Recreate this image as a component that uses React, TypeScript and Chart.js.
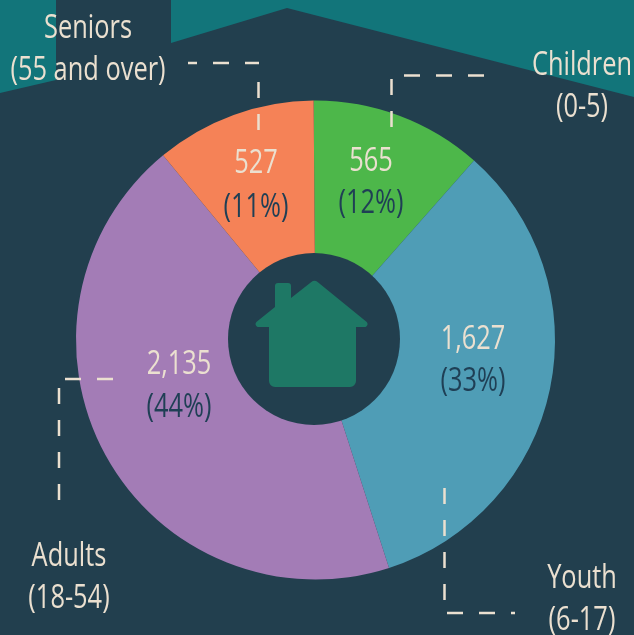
import React, { useEffect, useRef } from "react";
import { Chart, registerables } from "chart.js";

Chart.register(...registerables);

const categories = ["Children", "Youth", "Adults", "Seniors"];
const ranges = ["(0-5)", "(6-17)", "(18-54)", "(55 and over)"];
const values = [565, 1627, 2135, 527];
const percents = ["(12%)", "(33%)", "(44%)", "(11%)"];
const sliceColors = ["#4DB74A", "#4F9DB6", "#A37CB6", "#F58257"];

const BG = "#223F4E";
const TEAL = "#12757A";
const HOUSE = "#1E7865";
const CREAM = "#EBE0D0";
const DARK = "#1F3F55";
const FONT = '33px "Open Sans"';
const SQUEEZE = 0.77;

// pixel layout, per category
const valuePos = [[371, 171], [473, 349], [179, 374], [256, 173]];
const pctPos = [[371, 213], [473, 391], [179, 417], [256, 217]];
const namePos = [[582, 75], [582, 588], [69, 566], [88, 38]];
const rangePos = [[582, 117], [582, 630], [69, 608], [88, 80]];
const leaders = [
  [[404, 75.5, 484, 75.5, 0], [391.5, 79, 391.5, 127, 0]],
  [[444.5, 488, 444.5, 600, 0], [447, 613, 515, 613, 0]],
  [[65, 379, 113, 379, 0], [59, 388, 59, 500, 0]],
  [[188, 63, 259, 63, 7], [258.5, 82, 258.5, 130, 0]],
];

function polygon(ctx: CanvasRenderingContext2D, pts: number[][]) {
  ctx.beginPath();
  pts.forEach(([x, y], i) => (i ? ctx.lineTo(x, y) : ctx.moveTo(x, y)));
  ctx.closePath();
  ctx.fill();
}

function roundedPolygon(ctx: CanvasRenderingContext2D, pts: number[][]) {
  const n = pts.length;
  ctx.beginPath();
  const last = pts[n - 1];
  const first = pts[0];
  ctx.moveTo((last[0] + first[0]) / 2, (last[1] + first[1]) / 2);
  for (let i = 0; i < n; i++) {
    const p = pts[i];
    const q = pts[(i + 1) % n];
    ctx.arcTo(p[0], p[1], q[0], q[1], p[2]);
  }
  ctx.closePath();
  ctx.fill();
}

function text(ctx: CanvasRenderingContext2D, s: string, x: number, y: number, color: string) {
  ctx.save();
  ctx.translate(x, y);
  ctx.scale(SQUEEZE, 1);
  ctx.font = FONT;
  ctx.fillStyle = color;
  ctx.textAlign = "center";
  ctx.textBaseline = "alphabetic";
  ctx.fillText(s, 0, 0);
  ctx.restore();
}

const backdrop = {
  id: "backdrop",
  beforeDraw(chart: Chart) {
    const ctx = chart.ctx;
    ctx.save();
    ctx.fillStyle = BG;
    ctx.fillRect(0, 0, chart.width, chart.height);
    ctx.fillStyle = TEAL;
    polygon(ctx, [[0, 0], [56, 0], [56, 80], [0, 93]]);
    polygon(ctx, [[171, 0], [171, 43], [287, 8], [634, 97], [634, 0]]);
    ctx.restore();
  },
};

const overlay = {
  id: "overlay",
  afterDatasetsDraw(chart: Chart) {
    const ctx = chart.ctx;
    ctx.save();
    // centre hole and house
    ctx.fillStyle = BG;
    ctx.beginPath();
    ctx.arc(314, 339, 86, 0, Math.PI * 2);
    ctx.fill();
    ctx.fillStyle = HOUSE;
    roundedPolygon(ctx, [
      [275, 283, 3], [291, 283, 3], [291, 298, 0], [314.5, 279.5, 5],
      [373, 327, 3], [356, 327, 0], [356, 387, 6], [269, 387, 6],
      [269, 327, 0], [250, 327, 3], [275, 307, 0],
    ]);
    // leader lines
    ctx.strokeStyle = CREAM;
    ctx.lineWidth = 2.5;
    ctx.setLineDash([16, 16]);
    leaders.forEach((segs) =>
      segs.forEach(([x1, y1, x2, y2, offset]) => {
        ctx.lineDashOffset = offset;
        ctx.beginPath();
        ctx.moveTo(x1, y1);
        ctx.lineTo(x2, y2);
        ctx.stroke();
      })
    );
    ctx.setLineDash([]);
    // labels
    categories.forEach((name, i) => {
      text(ctx, name, namePos[i][0], namePos[i][1], CREAM);
      text(ctx, ranges[i], rangePos[i][0], rangePos[i][1], CREAM);
      text(ctx, values[i].toLocaleString("en-US"), valuePos[i][0], valuePos[i][1], CREAM);
      text(ctx, percents[i], pctPos[i][0], pctPos[i][1], DARK);
    });
    ctx.restore();
  },
};

export default function App() {
  const ref = useRef<HTMLCanvasElement>(null);
  useEffect(() => {
    document.body.style.margin = "0";
    const chart = new Chart(ref.current!, {
      type: "doughnut",
      data: {
        labels: categories,
        datasets: [{ data: values, backgroundColor: sliceColors, borderWidth: 0 }],
      },
      options: {
        responsive: false,
        animation: false,
        cutout: "34%",
        rotation: -0.45,
        layout: { padding: { left: 76, right: 79, top: 100.5, bottom: 55.5 } },
        plugins: { legend: { display: false }, tooltip: { enabled: false } },
      },
      plugins: [backdrop, overlay],
    });
    return () => chart.destroy();
  }, []);
  return <canvas ref={ref} width={634} height={635} style={{ display: "block" }} />;
}
